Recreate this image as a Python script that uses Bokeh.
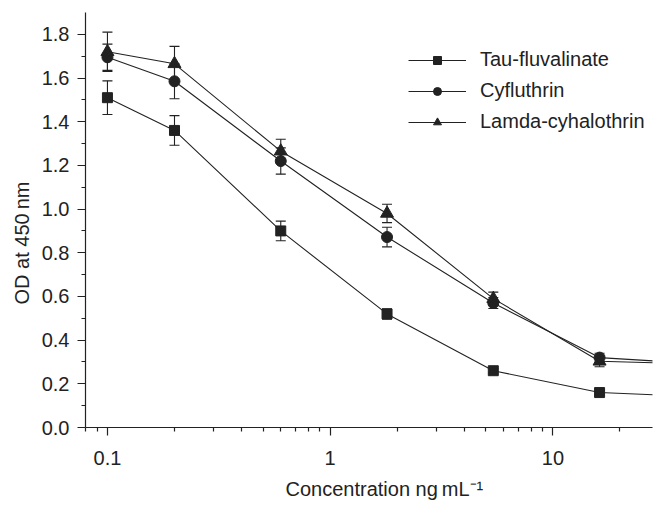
import math
from bokeh.plotting import figure
from bokeh.models import (ColumnDataSource, Whisker, TeeHead, FixedTicker,
                          CustomJSTickFormatter, NumeralTickFormatter, Legend,
                          LegendItem, Title, Range1d)
from bokeh.embed import file_html
from bokeh.resources import INLINE

# ---- data ----
conc = [0.1, 0.2, 0.6, 1.8, 5.4, 16.2, 48.6]
tau = [1.51, 1.36, 0.90, 0.52, 0.26, 0.16, 0.14]
tau_err = [0.077, 0.068, 0.045, 0.024, 0.01, 0.01, 0.01]
cyf = [1.695, 1.585, 1.22, 0.872, 0.57, 0.32, 0.29]
cyf_err = [0.06, 0.08, 0.06, 0.045, 0.025, 0.02, 0.02]
lam = [1.72, 1.665, 1.265, 0.98, 0.59, 0.303, 0.29]
lam_err = [0.09, 0.08, 0.055, 0.042, 0.03, 0.025, 0.02]
series_names = ["Tau-fluvalinate", "Cyfluthrin", "Lamda-cyhalothrin"]

x_major_ticks = [0.1, 1, 10]
x_tick_labels = ["0.1", "1", "10"]
x_minor_ticks = [0.08, 0.09, 0.2, 0.3, 0.4, 0.5, 0.6, 0.7, 0.8, 0.9,
                 2, 3, 4, 5, 6, 7, 8, 9, 20]
y_major_ticks = [0.0, 0.2, 0.4, 0.6, 0.8, 1.0, 1.2, 1.4, 1.6, 1.8]
y_minor_ticks = [0.1, 0.3, 0.5, 0.7, 0.9, 1.1, 1.3, 1.5, 1.7]

x_title = "Concentration ng\u2009mL\u207b\u00b9"
y_title = "OD at 450\u2009nm"

INK = "#222222"
FONT = "Liberation Sans"

p = figure(width=656, height=507, x_axis_type="log",
           x_range=Range1d(0.0797, 28.0), y_range=Range1d(0, 1.9),
           output_backend="svg", toolbar_location=None,
           min_border_left=85, min_border_right=4,
           min_border_top=12, min_border_bottom=79)
p.outline_line_color = None
p.grid.visible = False
p.background_fill_color = "white"
p.border_fill_color = "white"

p.xaxis.ticker = FixedTicker(ticks=x_major_ticks, minor_ticks=x_minor_ticks)
p.xaxis.formatter = CustomJSTickFormatter(
    args=dict(major_vals=x_major_ticks, major_labels=x_tick_labels),
    code="""
    for (let i = 0; i < major_vals.length; i++) {
        if (Math.abs(major_vals[i] - tick) < 1e-9 * Math.max(1, Math.abs(tick))) return major_labels[i];
    }
    return '';
    """)
p.yaxis.ticker = FixedTicker(ticks=y_major_ticks, minor_ticks=y_minor_ticks)
p.yaxis.formatter = NumeralTickFormatter(format="0.0")

for ax in (p.xaxis[0], p.yaxis[0]):
    ax.axis_line_color = INK
    ax.axis_line_width = 1.2
    ax.major_tick_line_color = INK
    ax.minor_tick_line_color = INK
    ax.major_tick_line_width = 1.2
    ax.minor_tick_line_width = 1.2
    ax.major_tick_out = 8
    ax.major_tick_in = 0
    ax.minor_tick_out = 4
    ax.minor_tick_in = 0
    ax.major_label_text_font = FONT
    ax.major_label_text_font_size = "20px"
    ax.major_label_text_color = INK
p.xaxis.major_label_standoff = 15
p.yaxis.major_label_standoff = 8

items = []
for name, vals, errs, marker, size in [
        (series_names[0], tau, tau_err, "square", 10),
        (series_names[1], cyf, cyf_err, "circle", 11),
        (series_names[2], lam, lam_err, "triangle", 13)]:
    n = 6  # error bars only for points inside the axis range
    src = ColumnDataSource(dict(
        x=conc[:n],
        upper=[v + e for v, e in zip(vals[:n], errs[:n])],
        lower=[v - e for v, e in zip(vals[:n], errs[:n])]))
    w = Whisker(source=src, base="x", upper="upper", lower="lower",
                dimension="height", line_color=INK, line_width=1.1,
                upper_head=TeeHead(size=10, line_color=INK, line_width=1.1),
                lower_head=TeeHead(size=10, line_color=INK, line_width=1.1))
    p.add_layout(w)
    lr = p.line(conc, vals, line_color=INK, line_width=1.1)
    sr = p.scatter(conc, vals, marker=marker, size=size,
                   fill_color=INK, line_color=INK)
    items.append(LegendItem(label=name, renderers=[lr, sr]))

legend = Legend(items=items, location=(323, 294), padding=0, margin=0,
                spacing=8, glyph_width=58, glyph_height=20, label_height=20,
                label_standoff=14, label_text_font=FONT,
                label_text_font_size="20px", label_text_color=INK,
                border_line_alpha=0, background_fill_alpha=0)
p.add_layout(legend)

ytitle = Title(text=y_title, align="left", offset=123, standoff=11,
               text_font=FONT, text_font_size="20px",
               text_font_style="normal", text_color=INK)
p.add_layout(ytitle, "left")

xtitle = Title(text=x_title, align="left", offset=200, standoff=16,
               text_font=FONT, text_font_size="20px",
               text_font_style="normal", text_color=INK)
p.add_layout(xtitle, "below")

open("out.html", "w").write(file_html(p, INLINE))
